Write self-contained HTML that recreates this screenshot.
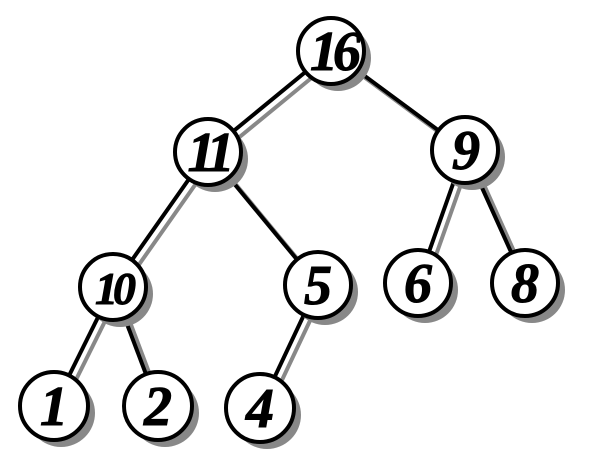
<!DOCTYPE html>
<html><head><style>body{margin:0;background:#fff}svg{display:block}</style></head><body>
<svg width="600" height="468" viewBox="0 0 600 468">
<g stroke="#888" stroke-width="4" transform="translate(6,6)">
<line x1="331" y1="51" x2="208" y2="152"/><line x1="331" y1="51" x2="465" y2="150"/>
<line x1="208" y1="152" x2="113" y2="287"/><line x1="208" y1="152" x2="318" y2="285"/>
<line x1="465" y1="150" x2="418" y2="283"/><line x1="465" y1="150" x2="525" y2="283"/>
<line x1="113" y1="287" x2="54" y2="406"/><line x1="113" y1="287" x2="158" y2="406"/>
<line x1="318" y1="285" x2="260" y2="408"/>
</g>
<g stroke="#000" stroke-width="4">
<line x1="331" y1="51" x2="208" y2="152"/><line x1="331" y1="51" x2="465" y2="150"/>
<line x1="208" y1="152" x2="113" y2="287"/><line x1="208" y1="152" x2="318" y2="285"/>
<line x1="465" y1="150" x2="418" y2="283"/><line x1="465" y1="150" x2="525" y2="283"/>
<line x1="113" y1="287" x2="54" y2="406"/><line x1="113" y1="287" x2="158" y2="406"/>
<line x1="318" y1="285" x2="260" y2="408"/>
</g>
<g fill="#888" transform="translate(7,7)">
<circle cx="331" cy="51" r="33"/><circle cx="208" cy="152" r="33"/><circle cx="465" cy="150" r="33"/>
<circle cx="113" cy="287" r="33"/><circle cx="318" cy="285" r="33"/><circle cx="418" cy="283" r="33"/>
<circle cx="525" cy="283" r="33"/><circle cx="54" cy="406" r="34"/><circle cx="158" cy="406" r="34"/><circle cx="260" cy="408" r="34"/>
</g>
<g fill="#fff" stroke="#000" stroke-width="4">
<circle cx="331" cy="51" r="33"/><circle cx="208" cy="152" r="33"/><circle cx="465" cy="150" r="33"/>
<circle cx="113" cy="287" r="33"/><circle cx="318" cy="285" r="33"/><circle cx="418" cy="283" r="33"/>
<circle cx="525" cy="283" r="33"/><circle cx="54" cy="406" r="34"/><circle cx="158" cy="406" r="34"/><circle cx="260" cy="408" r="34"/>
</g>
<g font-family="Liberation Serif, serif" font-style="italic" font-weight="bold" font-size="56" text-anchor="middle" fill="#000" stroke="#000" stroke-width="1">
<text x="333" y="70" letter-spacing="-5">16</text>
<text x="208" y="171" letter-spacing="-6">11</text>
<text x="113" y="304" font-size="46" letter-spacing="-5">10</text>
<text x="466" y="169">9</text>
<text x="318" y="304">5</text>
<text x="418" y="302">6</text>
<text x="525" y="302">8</text>
<text x="54" y="425">1</text>
<text x="158" y="425">2</text>
<text x="260" y="427">4</text>
</g>
</svg>
</body></html>
